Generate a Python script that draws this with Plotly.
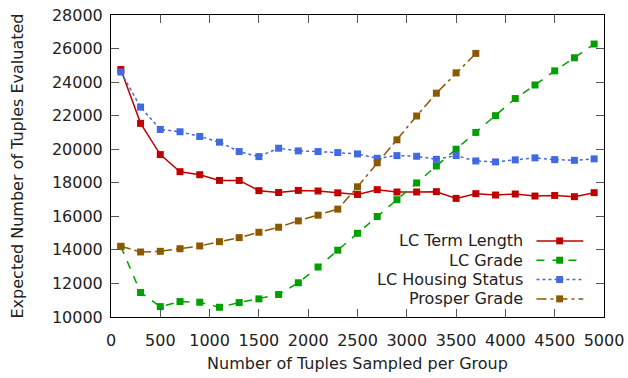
import plotly.graph_objects as go

# Sample sizes per group
sample_sizes = list(range(100, 5000, 200))          # 100 .. 4900
prosper_sizes = list(range(100, 3800, 200))         # 100 .. 3700

# Expected number of tuples evaluated
lc_term_length = [24750, 21540, 19680, 18660, 18480, 18140, 18140, 17530, 17420, 17545,
                  17510, 17400, 17305, 17590, 17450, 17450, 17470, 17070, 17350, 17270,
                  17330, 17210, 17245, 17170, 17410]
lc_grade = [14200, 11460, 10620, 10920, 10880, 10580, 10860, 11080, 11340, 12040,
            12980, 13980, 14990, 15990, 16990, 17990, 19000, 20000, 21000, 22000,
            23020, 23830, 24670, 25450, 26270]
lc_housing = [24600, 22510, 21180, 21040, 20760, 20420, 19860, 19560, 20060, 19900,
              19860, 19800, 19720, 19460, 19620, 19580, 19400, 19620, 19300, 19245,
              19365, 19485, 19380, 19340, 19425]
prosper_grade = [14215, 13875, 13915, 14070, 14235, 14490, 14730, 15050, 15350, 15730,
                 16070, 16430, 17760, 19190, 20560, 21980, 23340, 24550, 25710]

x_ticks = list(range(0, 5001, 500))
y_ticks = list(range(10000, 28001, 2000))

series = [
    ("LC Term Length", sample_sizes, lc_term_length, "#c00000", "solid"),
    ("LC Grade", sample_sizes, lc_grade, "#00a000", "8px,8px"),
    ("LC Housing Status", sample_sizes, lc_housing, "#4169e1", "3px,3px"),
    ("Prosper Grade", prosper_sizes, prosper_grade, "#8b5a00", "10px,4px,3px,4px"),
]

FONT = "DejaVu Sans"
FS = 16
fig = go.Figure()
for name, xs, ys, color, dash in series:
    fig.add_trace(go.Scatter(
        x=xs, y=ys, name=name, mode="lines+markers",
        line=dict(color=color, width=1.5, dash=dash),
        marker=dict(symbol="square", size=7, color=color),
        showlegend=False,
    ))

# Key in the lower right: right-aligned labels followed by line samples
key_rows = [0.252, 0.188, 0.124, 0.060]
for (name, _, _, color, dash), yk in zip(series, key_rows):
    fig.add_annotation(xref="paper", yref="paper", x=0.840, y=yk, text=name,
                       showarrow=False, xanchor="right", yanchor="middle",
                       font=dict(family=FONT, size=FS, color="#222222"))
    fig.add_shape(type="line", xref="paper", yref="paper",
                  x0=0.863, x1=0.958, y0=yk, y1=yk,
                  line=dict(color=color, width=1.5, dash=dash))
    fig.add_shape(type="rect", xref="paper", yref="paper",
                  x0=0.903, x1=0.917, y0=yk - 0.0116, y1=yk + 0.0116,
                  line=dict(width=0), fillcolor=color)

axis_common = dict(
    showgrid=False, zeroline=False, showline=True, linecolor="black", linewidth=1,
    mirror="ticks", ticks="inside", ticklen=8, tickcolor="#555555", tickwidth=1,
    tickfont=dict(family=FONT, size=FS, color="#222222"),
    tickformat="d", automargin=False,
)

fig.update_layout(
    width=628, height=378,
    margin=dict(l=111, r=24, t=15, b=61),
    paper_bgcolor="white", plot_bgcolor="white",
    font=dict(family=FONT, size=FS, color="#222222"),
    xaxis=dict(range=[0, 5000], tickvals=x_ticks, ticklabelstandoff=9,
               title=dict(text="Number of Tuples Sampled per Group", standoff=8,
                          font=dict(family=FONT, size=FS)),
               **axis_common),
    yaxis=dict(range=[10000, 28000], tickvals=y_ticks, ticklabelstandoff=4,
               title=dict(text="Expected Number of Tuples Evaluated", standoff=24,
                          font=dict(family=FONT, size=FS)),
               **axis_common),
)

fig.write_html("out.html")
